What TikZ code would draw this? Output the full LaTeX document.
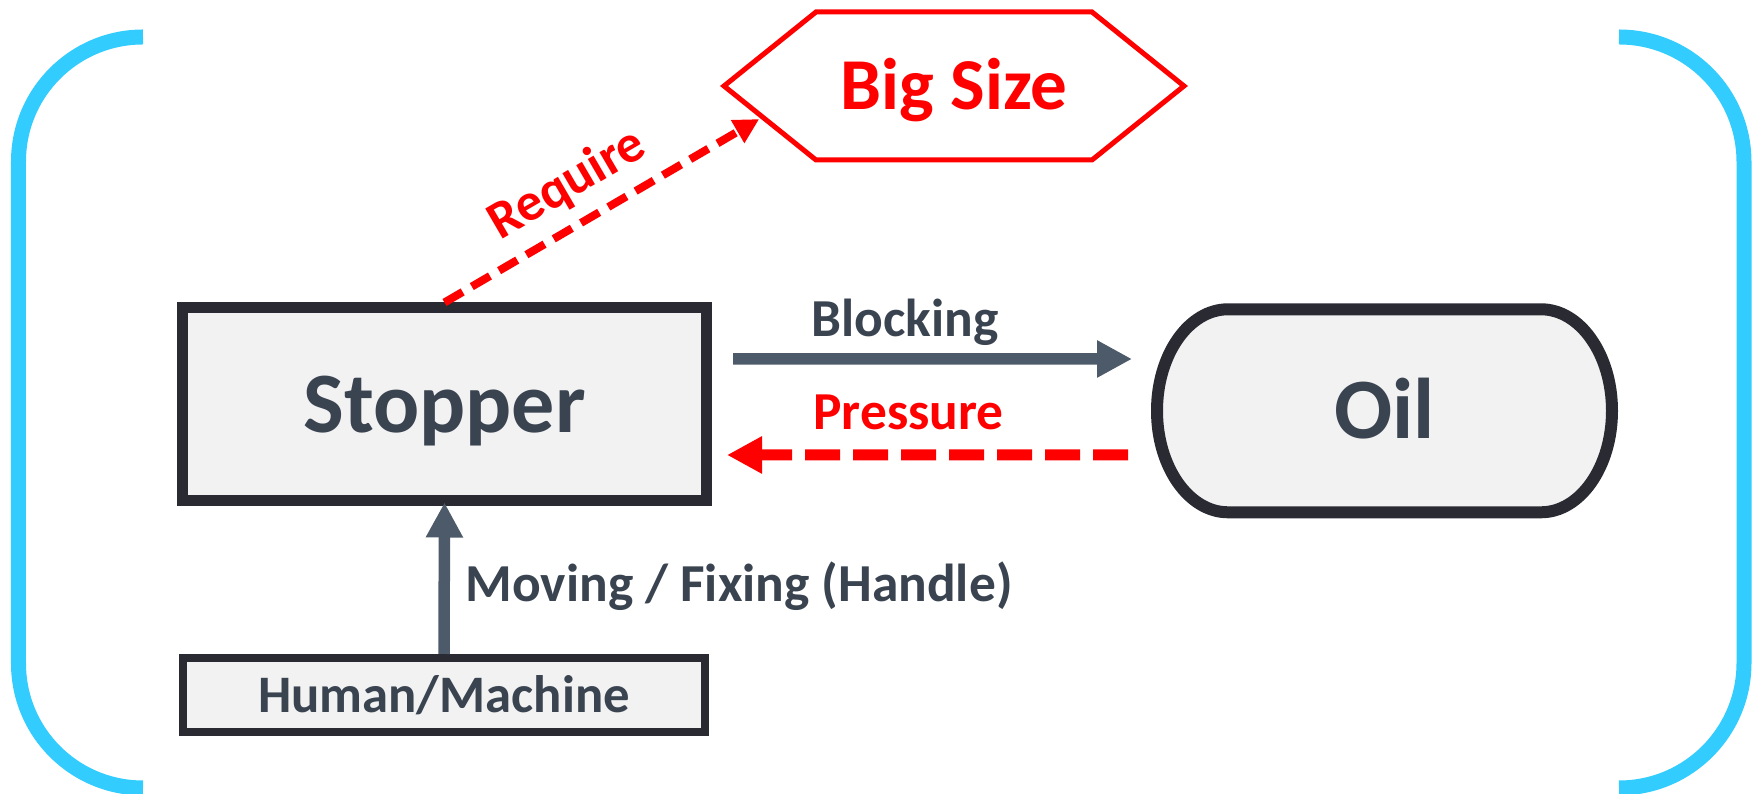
\documentclass[tikz,border=0pt]{standalone}
\usepackage{fontspec}
\setmainfont{Carlito}
\usetikzlibrary{arrows.meta,backgrounds,calc}

\definecolor{bracketblue}{HTML}{33CCFF}
\definecolor{alertred}{HTML}{FF0000}
\definecolor{edgedark}{HTML}{2A2A33}
\definecolor{boxgray}{HTML}{F2F2F2}
\definecolor{inkslate}{HTML}{3A4350}
\definecolor{arrowslate}{HTML}{4D5A69}

\begin{document}
\begin{tikzpicture}[
  every node/.style={align=center},
  box/.style={draw=edgedark, fill=boxgray, line width=1.1mm, text=inkslate,
              font=\fontsize{24.5}{29}\selectfont\bfseries,
              text height=15.8pt, text depth=0pt},
  smallbox/.style={box, line width=0.8mm,
              font=\fontsize{15}{18}\selectfont\bfseries, text height=9.7pt},
  lbl/.style={font=\fontsize{15.2}{18}\selectfont\bfseries, text=inkslate},
  rlbl/.style={lbl, text=alertred},
  bracket/.style={bracketblue, line width=1.5mm},
  arr/.style={arrowslate, line width=1.15mm, -{Triangle[length=3.5mm, width=3.5mm]}},
  parr/.style={alertred, line width=1.1mm, dash pattern=on 3.5mm off 1.3mm,
               -{Triangle[length=3.5mm, width=3.5mm]}},
  rarr/.style={alertred, line width=0.8mm, dash pattern=on 2.1mm off 1.06mm,
               -{Triangle[length=2.5mm, width=2.5mm]}}
]
\path[use as bounding box] (0,0) rectangle (17.57,7.94);

%% Side brackets
\draw[bracket] (1.43,7.57) arc[start angle=90, end angle=180, radius=1.245]
      -- (0.185,1.305) arc[start angle=180, end angle=270, radius=1.245];
\draw[bracket] (16.19,7.57) arc[start angle=90, end angle=0, radius=1.25]
      -- (17.44,1.31) arc[start angle=0, end angle=-90, radius=1.25];

%% Nodes
\node[box, minimum width=5.24cm, minimum height=1.93cm] (stopper) at (4.445,3.895) {Stopper};
\node[box, draw=none, fill=none, line width=1.2mm, minimum width=4.55cm,
      minimum height=2.03cm] (oil) at (13.845,3.832) {Oil};
\node[smallbox, minimum width=5.22cm, minimum height=0.74cm] (human) at (4.44,0.99) {Human/Machine};
\node[text=alertred, font=\fontsize{20.8}{25}\selectfont\bfseries,
      text height=13.4pt, text depth=0pt] (big) at (9.54,7.08) {Big Size};

%% Hexagon corners
\coordinate (bigleft) at ($(big.center)+(-2.30,0)$);
\coordinate (bigsw)   at ($(big.center)+(-1.38,-0.74)$);

%% Outlines behind the text
\begin{scope}[on background layer]
  \draw[edgedark, fill=boxgray, line width=1.2mm]
    ($(oil.center)+(-1.565,1.015)$) -- ++(3.13,0)
    arc[start angle=90, end angle=-90, x radius=0.71, y radius=1.015] -- ++(-3.13,0)
    arc[start angle=270, end angle=90, x radius=0.71, y radius=1.015] -- cycle;
  \draw[alertred, line width=0.5mm] (bigleft) -- ++(0.92,0.74) -- ++(2.76,0)
    -- ++(0.92,-0.74) -- ++(-0.92,-0.74) -- (bigsw) -- cycle;
\end{scope}

%% Arrows
\draw[arr, shorten <=2.1mm, shorten >=1.9mm] ([yshift=4.55mm]stopper.east) --
      node[lbl, pos=0.44, anchor=base, yshift=2.2mm]{Blocking} ([yshift=5.18mm]oil.west);
\draw[parr, shorten <=2.3mm, shorten >=1.5mm] ([yshift=-4.42mm]oil.west) --
      node[rlbl, pos=0.552, anchor=base, yshift=2.5mm]{Pressure} ([yshift=-5.05mm]stopper.east);
\draw[arr, shorten >=-0.4mm] (human.north) --
      node[lbl, pos=0.353, anchor=base west, xshift=0.4mm]{Moving / Fixing (Handle)} (stopper.south);
\draw[rarr, shorten >=0.4mm] (stopper.north) --
      node[rlbl, pos=0.45, sloped, above, inner sep=1.3mm]{Require} ($(bigleft)!0.42!(bigsw)$);

\end{tikzpicture}
\end{document}
